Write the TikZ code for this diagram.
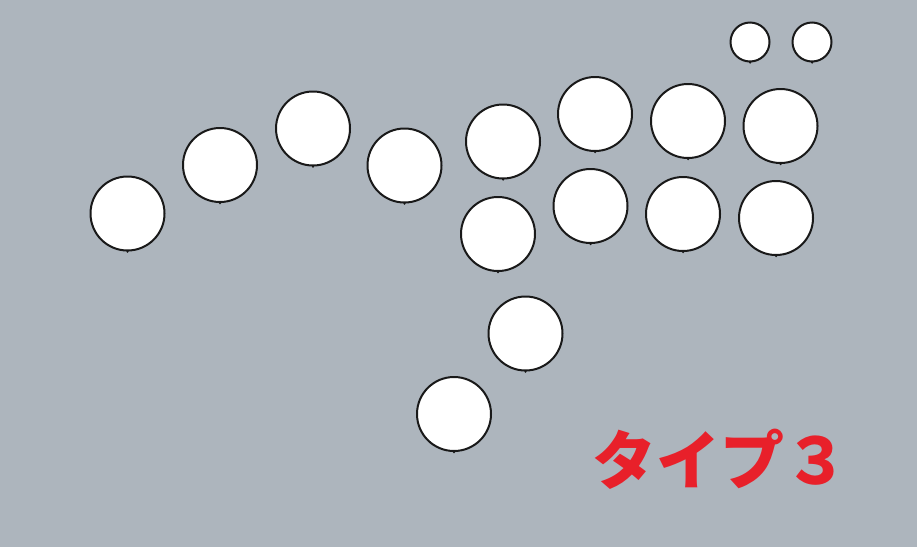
\documentclass[tikz,border=0pt]{standalone}
\usepackage{fontspec}
\newfontfamily\cjk{Noto Sans CJK JP}
\definecolor{bg}{RGB}{173,181,189}
\definecolor{lbl}{RGB}{232,32,42}
\definecolor{ring}{RGB}{25,25,25}
\tikzset{
  ball/.style={circle, draw=ring, fill=white, line width=2pt, minimum size=74pt, inner sep=0pt},
  smallball/.style={circle, draw=ring, fill=white, line width=2pt, minimum size=39pt, inner sep=0pt},
  tick/.style={circle, fill=ring, minimum size=2.5pt, inner sep=0pt}
}
\begin{document}
\begin{tikzpicture}[x=1pt,y=-1pt]
\fill[bg] (0,0) rectangle (917,547);
\useasboundingbox (0,0) rectangle (917,547);
\foreach \n/\x/\y in {c1/127.5/213.5, c2/220/165, c3/313/128.5, c4/404.5/165.5,
  c5/503/141.5, c6/595/114, c7/688/121, c8/780.5/126,
  c9/498/234, c10/590.5/206, c11/683/214, c12/776/218,
  c13/525.5/333.5, c14/454/414}{
  \node[ball] (\n) at (\x,\y) {};
  \node[tick] (\n t) at (\n.south) {};
}
\node[smallball] (s1) at (750,42) {};
\node[tick] (s1t) at (s1.south) {};
\node[smallball] (s2) at (812,42) {};
\node[tick] (s2t) at (s2.south) {};
\node[anchor=base west, inner sep=0pt, text=lbl, font=\cjk\bfseries\fontsize{64pt}{64pt}\selectfont] (lab) at (592,484) {タイプ３};
\end{tikzpicture}
\end{document}
